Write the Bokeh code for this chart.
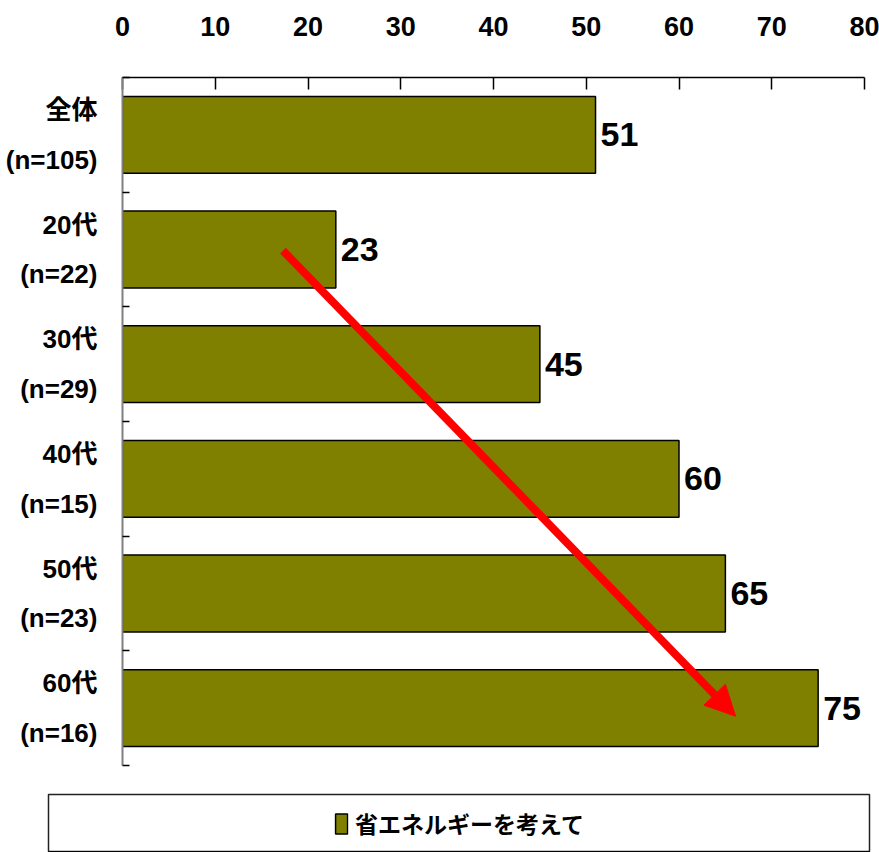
from bokeh.plotting import figure
from bokeh.layouts import column, row
from bokeh.models import (ColumnDataSource, Range1d, FixedTicker, Legend,
                          LegendItem, Arrow, NormalHead)
from bokeh.core.properties import value
from bokeh.embed import file_html
from bokeh.resources import INLINE

# ---- data ----
categories = ["全体", "20代", "30代", "40代", "50代", "60代"]
sample_sizes = [105, 22, 29, 15, 23, 16]
values = [51, 23, 45, 60, 65, 75]
x_ticks = [0, 10, 20, 30, 40, 50, 60, 70, 80]
series_name = "省エネルギーを考えて"
arrow_x = [17.3, 66.1]
arrow_y = [1.01, 5.07]

LATIN = "'Liberation Sans', 'Noto Sans CJK JP', sans-serif"
CJK = "'Noto Sans CJK JP', sans-serif"
OLIVE = "#808000"

ys = list(range(len(categories)))
src = ColumnDataSource(dict(y=ys, v=values, vt=[str(v) for v in values]))

p = figure(width=879, height=785, output_backend="svg", toolbar_location=None,
           x_range=Range1d(0, 80), y_range=Range1d(len(categories) - 0.5, -0.5),
           x_axis_location="above", min_border_left=122, min_border_right=15,
           min_border_top=77, min_border_bottom=20)
p.outline_line_color = None
p.xgrid.visible = False
p.ygrid.visible = False

# top axis
xa = p.xaxis[0]
xa.ticker = FixedTicker(ticks=x_ticks)
xa.major_tick_in = 12
xa.major_tick_out = 0
xa.minor_tick_line_color = None
xa.axis_line_color = "black"
xa.axis_line_width = 1.5
xa.major_tick_line_color = "black"
xa.major_tick_line_width = 1.5
xa.major_label_text_font = LATIN
xa.major_label_text_font_style = "bold"
xa.major_label_text_font_size = "27px"
xa.major_label_text_color = "black"
xa.major_label_standoff = 42

# left axis: labels at category centres, ticks at category boundaries
ya = p.yaxis[0]
ya.ticker = FixedTicker(ticks=ys, minor_ticks=[i - 0.5 for i in range(len(categories) + 1)])
ya.major_label_overrides = {i: f"{c}\n(n={n})" for i, c, n in zip(ys, categories, sample_sizes)}
ya.major_tick_line_color = None
ya.major_tick_in = 0
ya.major_tick_out = 0
ya.minor_tick_in = 7
ya.minor_tick_out = 0
ya.minor_tick_line_color = "black"
ya.minor_tick_line_width = 1.5
ya.axis_line_color = "#808080"
ya.axis_line_width = 2
ya.major_label_text_font = LATIN
ya.major_label_text_font_style = "bold"
ya.major_label_text_font_size = "26px"
ya.major_label_text_color = "black"
ya.major_label_text_line_height = 1.65
ya.major_label_standoff = 25

bars = p.hbar(y="y", right="v", left=0, height=0.67, source=src,
              fill_color=OLIVE, line_color="black", line_width=1.5)

p.text(x="v", y="y", text="vt", source=src, x_offset=5,
       text_font=value(LATIN), text_font_style="bold", text_font_size="34px",
       text_align="left", text_baseline="middle", text_color="black")

p.add_layout(Arrow(end=NormalHead(size=30, fill_color="red", line_color="red"),
                   x_start=arrow_x[0], y_start=arrow_y[0],
                   x_end=arrow_x[1], y_end=arrow_y[1],
                   line_color="red", line_width=8))

# legend panel (box); the swatch renderer reuses the bar data but lies outside the view
lg = figure(width=879, height=67, output_backend="svg", toolbar_location=None,
            x_axis_type=None, y_axis_type=None, x_range=Range1d(0, 1),
            y_range=Range1d(1000, 1001), min_border_left=48, min_border_right=10,
            min_border_top=9, min_border_bottom=0)
lg.xgrid.visible = False
lg.ygrid.visible = False
lg.outline_line_color = "#222222"
lg.outline_line_width = 1.5
swatch = lg.hbar(y="y", right="v", left=0, height=0.67, source=src,
                 fill_color=OLIVE, line_color="black", line_width=1.5)
legend = Legend(items=[LegendItem(label=series_name, renderers=[swatch], index=0)],
                location="center", border_line_color=None,
                background_fill_alpha=0, glyph_width=15, glyph_height=25,
                label_text_font=CJK, label_text_font_style="bold",
                label_text_font_size="23px", label_text_color="black",
                label_standoff=7, padding=0, margin=0, spacing=0)
lg.add_layout(legend)

layout = column(p, row(lg), spacing=0)
open("out.html", "w").write(file_html(layout, INLINE))
